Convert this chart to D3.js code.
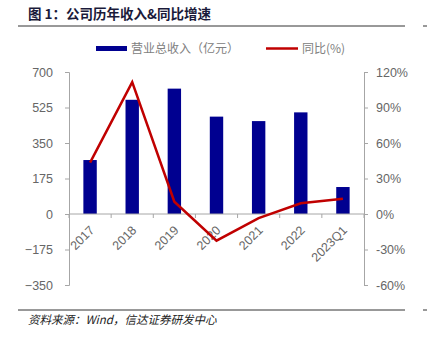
<!DOCTYPE html>
<html><head><meta charset="utf-8">
<script src="https://cdn.jsdelivr.net/npm/d3@7"></script>
<style>
body{margin:0;background:#fff;}
svg{display:block;font-family:"Liberation Sans",Arial,sans-serif;}
</style></head>
<body><svg id="c" width="427" height="343"></svg>
<script>
const categories = ["2017","2018","2019","2020","2021","2022","2023Q1"];
const revenue = [266, 563, 618, 480, 458, 501, 133];
const yoy = [43.4, 111.5, 10.4, -22.5, -3.5, 9.0, 12.9];
const leftTicks = [-350,-175,0,175,350,525,700];
const rightTicks = [-60,-30,0,30,60,90,120];

const svg = d3.select("#c");
const L = 69, R = 364, T = 72, B = 285;
const x = d3.scaleBand().domain(categories).range([L, R]);
const yL = d3.scaleLinear().domain([-350,700]).range([B, T]);
const yR = d3.scaleLinear().domain([-60,120]).range([B, T]);
const axisColor = "#a6a6a6", textColor = "#666";

// title
svg.append("text").attr("x",28).attr("y",19).attr("font-size",13.5).attr("font-weight","bold")
  .attr("fill","#1a1a3a").attr("font-family","'Noto Sans CJK SC',sans-serif").text("图 1：公司历年收入&同比增速");
svg.append("line").attr("x1",18).attr("x2",405).attr("y1",26).attr("y2",26).attr("stroke","#333").attr("stroke-width",1);
svg.append("line").attr("x1",423).attr("x2",427).attr("y1",26).attr("y2",26).attr("stroke","#333").attr("stroke-width",1);
svg.append("line").attr("x1",18).attr("x2",405).attr("y1",310).attr("y2",310).attr("stroke","#333").attr("stroke-width",1);
svg.append("line").attr("x1",423).attr("x2",427).attr("y1",310).attr("y2",310).attr("stroke","#333").attr("stroke-width",1);
svg.append("text").attr("x",28).attr("y",324).attr("font-size",11.5).attr("font-style","italic")
  .attr("fill","#222").attr("font-family","'Noto Sans CJK SC',sans-serif").text("资料来源：Wind，信达证券研发中心");

// legend
svg.append("rect").attr("x",96).attr("y",46).attr("width",31).attr("height",5).attr("fill","#000090");
svg.append("text").attr("x",131).attr("y",52.5).attr("font-size",12).attr("fill","#808080")
  .attr("font-family","'Noto Sans CJK SC',sans-serif").text("营业总收入（亿元）");
svg.append("line").attr("x1",266).attr("x2",298).attr("y1",48.5).attr("y2",48.5).attr("stroke","#C00000").attr("stroke-width",2.5);
svg.append("text").attr("x",302).attr("y",52.5).attr("font-size",12).attr("fill","#808080")
  .attr("font-family","'Noto Sans CJK SC',sans-serif").text("同比(%)");

// bars
const bw = 13.4;
svg.append("g").selectAll("rect").data(revenue).join("rect")
  .attr("x",(d,i)=>x(categories[i])+x.bandwidth()/2-bw/2)
  .attr("width",bw)
  .attr("y",d=>yL(Math.max(0,d)))
  .attr("height",d=>Math.abs(yL(d)-yL(0)))
  .attr("fill","#000090");

// left axis
const gl = svg.append("g").attr("transform",`translate(${L},0)`)
  .call(d3.axisLeft(yL).tickValues(leftTicks).tickSize(4).tickPadding(12));
// right axis
const gr = svg.append("g").attr("transform",`translate(${R},0)`)
  .call(d3.axisRight(yR).tickValues(rightTicks).tickSize(4).tickPadding(8).tickFormat(d=>d+"%"));
[gl,gr].forEach(g=>{
  g.select(".domain").attr("stroke",axisColor);
  g.selectAll(".tick line").attr("stroke",axisColor);
  g.selectAll("text").attr("fill",textColor).attr("font-size",12.5).attr("font-family","'Liberation Sans',Arial,sans-serif");
});

// x axis at zero
const gx = svg.append("g").attr("transform",`translate(0,${yL(0)})`);
gx.append("line").attr("x1",L).attr("x2",R).attr("stroke",axisColor);
const bounds = categories.map(c=>x(c)).concat([R]);
gx.selectAll("line.t").data(bounds).join("line").attr("class","t")
  .attr("x1",d=>d).attr("x2",d=>d).attr("y1",0).attr("y2",4).attr("stroke",axisColor);
gx.selectAll("text").data(categories).join("text")
  .attr("text-anchor","end")
  .attr("transform",d=>`translate(${x(d)+x.bandwidth()/2+5},${17}) rotate(-45)`)
  .attr("font-size",12.5).attr("fill",textColor)
  .attr("font-family","'Liberation Sans',Arial,sans-serif")
  .text(d=>d);

// line
const line = d3.line().x((d,i)=>x(categories[i])+x.bandwidth()/2).y(d=>yR(d));
svg.append("path").datum(yoy).attr("d",line).attr("fill","none")
  .attr("stroke","#C00000").attr("stroke-width",2.5).attr("stroke-linejoin","miter");
</script></body></html>
